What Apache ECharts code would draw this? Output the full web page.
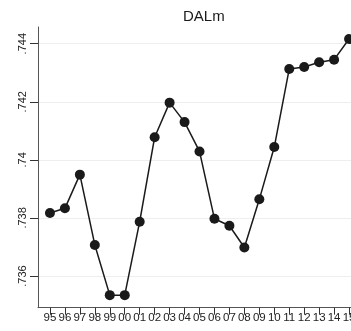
<!DOCTYPE html>
<html><head><meta charset="utf-8">
<script src="https://cdn.jsdelivr.net/npm/echarts@6/dist/echarts.min.js"></script>
<style>html,body{margin:0;padding:0;background:#fff}#c{width:351px;height:331px}</style>
</head><body><div id="c"></div>
<script>
const years = ['95','96','97','98','99','00','01','02','03','04','05','06','07','08','09','10','11','12','13','14','15'];
const dalm = [0.73817,0.73833,0.73949,0.73707,0.73534,0.73534,0.73787,0.74078,0.74197,0.74130,0.74029,0.73797,0.73773,0.73698,0.73864,0.74044,0.74313,0.74320,0.74336,0.74345,0.74416];
const yTicks = [0.736,0.738,0.740,0.742,0.744];
const yLabels = ['.736','.738','.74','.742','.744'];

const chart = echarts.init(document.getElementById('c'), null, {renderer:'canvas'});
const xIdx = years.map((_, i) => i);
chart.setOption({
  animation:false,
  backgroundColor:'#ffffff',
  title:{text:'DALm', left:178, top:4, textStyle:{fontFamily:'Liberation Sans', fontSize:15, fontWeight:'normal', color:'#1a1a1a'}},
  grid:{left:38, right:0, top:27, bottom:23.3, containLabel:false, outerBoundsMode:'none'},
  xAxis:{type:'value', min:-0.8, max:20.13,
    axisLine:{show:true, onZero:false, lineStyle:{color:'#555', width:1}},
    axisTick:{show:true, length:7, customValues:xIdx, lineStyle:{color:'#333'}},
    axisLabel:{customValues:xIdx, formatter:v => years[Math.round(v)], margin:4, fontFamily:'Liberation Sans', fontSize:11.5, color:'#222', showMinLabel:true, showMaxLabel:true, hideOverlap:false},
    splitLine:{show:false}},
  yAxis:{type:'value', min:0.734908, max:0.744575,
    axisLine:{show:true, onZero:false, lineStyle:{color:'#555', width:1}},
    axisTick:{show:true, length:8, customValues:yTicks, lineStyle:{color:'#333'}},
    axisLabel:{customValues:yTicks, rotate:90, margin:10, formatter:v => yLabels[yTicks.findIndex(t => Math.abs(t - v) < 1e-6)], fontFamily:'Liberation Sans', fontSize:11, color:'#222'},
    splitLine:{show:true, lineStyle:{color:'#eeeeee', width:1}}},
  series:[{type:'line', data:dalm.map((v,i)=>[i,v]), symbol:'circle', symbolSize:10,
    lineStyle:{color:'#1a1a1a', width:1.5}, itemStyle:{color:'#1a1a1a'}, clip:false}]
});
</script></body></html>
